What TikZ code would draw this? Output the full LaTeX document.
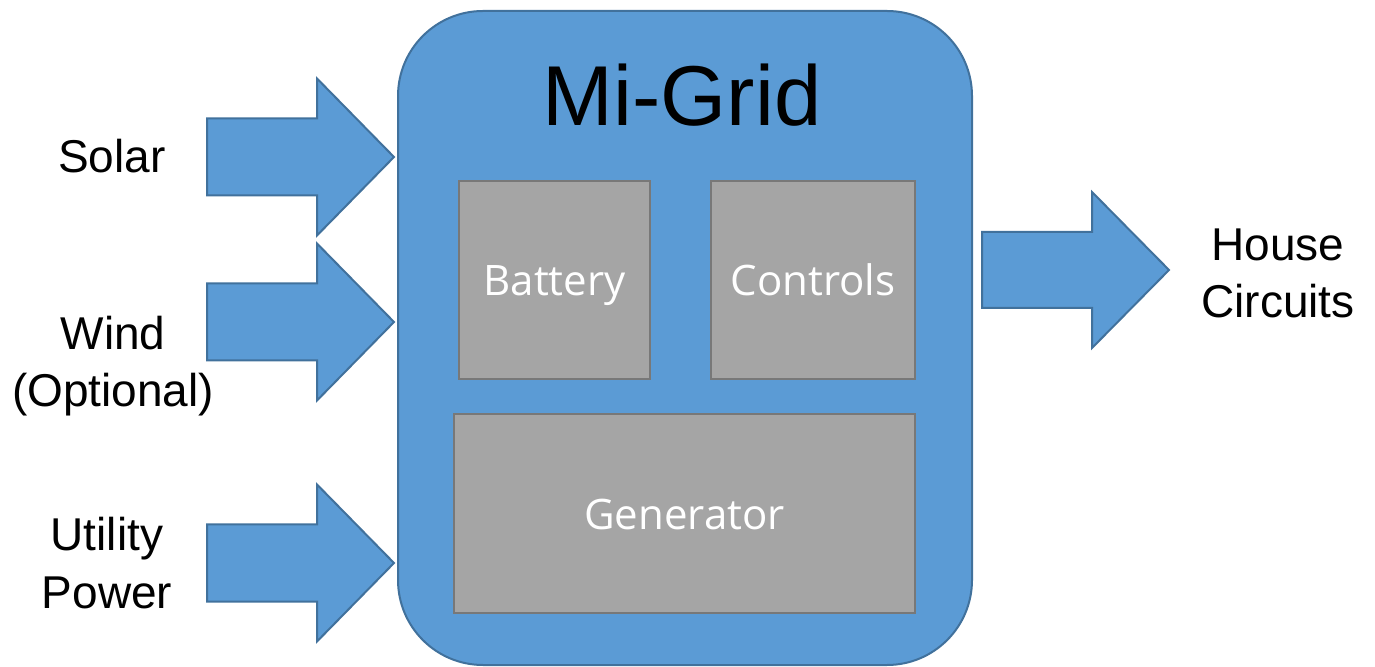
\documentclass[tikz,border=0pt]{standalone}
\usepackage{fontspec}
\setmainfont{Liberation Sans}
\newfontfamily\boxfont{Open Sans}
\usetikzlibrary{positioning}
\definecolor{gridblue}{HTML}{5B9BD5}
\definecolor{gridedge}{HTML}{41719C}
\definecolor{partgray}{HTML}{A5A5A5}
\definecolor{partedge}{HTML}{787878}

\begin{document}
\begin{tikzpicture}[x=0.5pt,y=-0.5pt,
    flow/.style={fill=gridblue, draw=gridedge, line width=1pt},
    part/.style={fill=partgray, draw=partedge, line width=1.2pt, inner sep=0pt,
        text=white, font=\boxfont\fontsize{21}{25}\selectfont, text height=16pt, text depth=0pt},
    side/.style={font=\fontsize{23}{28.5}\selectfont, align=center, inner sep=0pt, anchor=base}]
    \useasboundingbox (0,0) rectangle (1375,667);
    % the big box
    \node[flow, rounded corners=42.5pt, minimum width=287pt, minimum height=327pt] (grid) at (685,338) {};
    \node[font=\fontsize{42.5}{50}\selectfont, anchor=base, inner sep=0pt] (title) at (682,126) {Mi-Grid};
    \node[part, minimum width=95.5pt, minimum height=99pt] (battery) at (554.5,280) {Battery};
    \node[part, minimum width=102pt, minimum height=99pt] (controls) at (813,280) {Controls};
    \node[part, minimum width=230.5pt, minimum height=99.5pt] (generator) at (684.5,513.5) {Generator};
    % inputs
    \foreach \y in {157,322,563}
    \draw[flow] (207,\y-38.5) -- (317,\y-38.5) -- (317,\y-78.5) -- (394,\y) -- (317,\y+78.5) -- (317,\y+38.5) -- (207,\y+38.5) -- cycle;
    % output
    \draw[flow] (982,232) -- (1092,232) -- (1092,192) -- (1169,270) -- (1092,348) -- (1092,308) -- (982,308) -- cycle;
    % labels (base is the last line)
    \node[side] (solar) at (112,173) {Solar};
    \node[side] (wind) at (113,407) {Wind\\(Optional)};
    \node[side] (utility) at (107,608) {Utility\\Power};
    \node[side] (house) at (1278,318) {House\\Circuits};
\end{tikzpicture}
\end{document}
